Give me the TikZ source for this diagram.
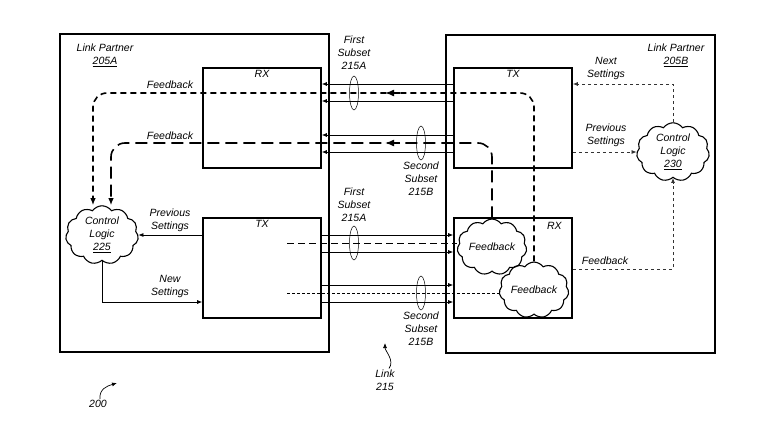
\documentclass[tikz,border=0pt]{standalone}
\usepackage{fontspec}
\setmainfont{Liberation Sans}
\usetikzlibrary{arrows.meta,positioning,shapes.geometric,shapes.symbols}

\begin{document}
\begin{tikzpicture}[x=1pt, y=-1pt,
    txt/.style={font=\itshape\fontsize{10.5}{13}\selectfont, align=center, inner sep=1pt},
    partner/.style={draw, line width=2pt, minimum width=269pt, minimum height=318pt, inner sep=0pt},
    unit/.style={draw, line width=1.6pt, minimum width=118pt, minimum height=100pt, inner sep=0pt},
    logic/.style={txt, cloud, draw, line width=1.1pt, cloud puffs=11, cloud puff arc=110, aspect=1.35, inner sep=0pt},
    lane/.style={line width=0.7pt, -{Latex[length=5pt,width=4pt]}},
    grp/.style={ellipse, draw, line width=0.5pt, minimum width=9pt, minimum height=34pt, inner sep=0pt},
    fbpath/.style={line width=1.6pt, rounded corners=14pt, -{Latex[length=7pt,width=5.5pt]}},
    fbtip/.style={line width=1.6pt, -{Latex[length=9pt,width=7pt]}},
    ctl/.style={line width=0.8pt, draw=black!80, dashed, -{Latex[length=5pt,width=4pt]}},
    ref/.style={line width=0.7pt, -{Latex[length=5pt,width=4pt]}}
]
\useasboundingbox (0,0) rectangle (780,434);

% link partners
\node (lpA) [partner] at (194.5,193) {};
\node (lpB) [partner] at (580.5,193.5) {};
\node [txt] at (105,55) {Link Partner\\\underline{205A}};
\node [txt] at (676,55) {Link Partner\\\underline{205B}};

% transmit / receive units
\node (rxA) [unit] at (262,118) {};
\node (txA) [unit] at (262,268) {};
\node (txB) [unit] at (513,118) {};
\node (rxB) [unit] at (513,268) {};
\node [txt, below=2pt of rxA.north] {RX};
\node [txt, below=2pt of txA.north] {TX};
\node [txt, below=2pt of txB.north] {TX};
\node [txt, below left=4pt and 10pt of rxB.north east] {RX};

% control logic and feedback clouds
\node (cl225) [logic, minimum width=69pt, minimum height=51pt] at (102,235) {Control\\Logic\\\underline{225}};
\node (cl230) [logic, minimum width=68pt, minimum height=50pt] at (673,152) {Control\\Logic\\\underline{230}};
\node (fbB1) [logic, minimum width=60pt, minimum height=44pt] at (492,247) {Feedback};
\node (fbB2) [logic, minimum width=61pt, minimum height=44pt] at (534,290) {Feedback};

% link lanes
\foreach \y in {84,101,135,152}
    \draw [lane] (txB.west |- 0,\y) -- (rxA.east |- 0,\y);
\foreach \y in {235,252,285,302}
    \draw [lane] (txA.east |- 0,\y) -- (rxB.west |- 0,\y);

\coordinate (tapA) at (287,243);
\coordinate (tapB) at (287,293);
\draw [line width=0.7pt, dash pattern=on 7pt off 4pt] (tapA) -- (fbB1.west |- tapA);
\draw [line width=0.7pt, dash pattern=on 3pt off 2pt] (tapB) -- (fbB2.west |- tapB);

% subsets
\node (grpA1) [grp] at (354,93) {};
\node (grpB1) [grp] at (421,143) {};
\node (grpA2) [grp] at (354,243) {};
\node (grpB2) [grp] at (421,293) {};
\node [txt] at (354,53) {First\\Subset\\215A};
\node [txt] at (421,179) {Second\\Subset\\215B};
\node [txt] at (354,205) {First\\Subset\\215A};
\node [txt] at (421,329) {Second\\Subset\\215B};

% feedback paths
\draw [fbpath, dash pattern=on 6pt off 4pt]
    (fbB2.north) -- (fbB2.north |- 0,93) -- (93,93) -- (cl225.north -| 93,0);
\draw [fbpath, dash pattern=on 12pt off 6pt]
    (fbB1.north) -- (fbB1.north |- 0,143) -- (111,143) -- (cl225.north -| 111,0);
\draw [fbtip] (400,93) -- (385,93);
\draw [fbtip] (400,143) -- (385,143);
\node [txt] at (170,85) {Feedback};
\node [txt] at (170,136) {Feedback};

% settings, partner A
\draw [lane] (txA.west |- cl225.east) -- (cl225.east);
\draw [lane] (cl225.south) |- (txA.west |- 0,302);
\node [txt] at (170,220) {Previous\\Settings};
\node [txt] at (170,286) {New\\Settings};

% settings, partner B
\draw [ctl] (cl230.north) |- (txB.east |- 0,84);
\draw [ctl] (txB.east |- cl230.west) -- (cl230.west);
\draw [ctl] (rxB.east |- 0,269) -| (cl230.south);
\node [txt] at (606,68) {Next\\Settings};
\node [txt] at (606,135) {Previous\\Settings};
\node [txt] at (605,261) {Feedback};

% references
\node (fig200) [txt] at (98,404) {200};
\node (link215) [txt] at (385,380) {Link\\215};
\coordinate (tip200) at (117,383);
\coordinate (tip215) at (385,343);
\draw [ref] ([xshift=2pt]fig200.north) .. controls +(-1,-10) and +(-10,3) .. (tip200);
\draw [ref] ([xshift=4pt]link215.north) .. controls +(6,-8) and +(0,8) .. (tip215);
\end{tikzpicture}
\end{document}
